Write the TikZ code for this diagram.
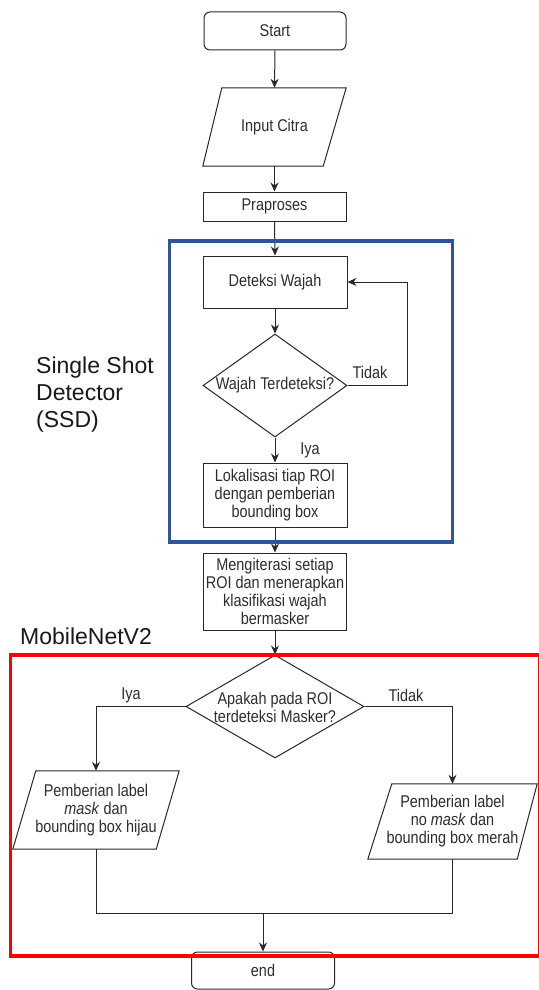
\documentclass[tikz,border=0pt]{standalone}
\usepackage{fontspec}
\setmainfont{Liberation Sans}[FakeStretch=0.85]
\newfontfamily\bigfont{Liberation Sans}
\usetikzlibrary{shapes.geometric,arrows.meta,calc}
\definecolor{ssdblue}{RGB}{47,85,151}
\definecolor{txt}{RGB}{45,45,45}
\definecolor{ln}{RGB}{40,40,40}
\begin{document}
\begin{tikzpicture}[x=1pt,y=-1pt,
  every node/.style={font=\fontsize{17}{18}\selectfont, text=txt, align=center, inner sep=0pt},
  box/.style={draw=ln, line width=1pt, fill=white},
  rbox/.style={box, rounded corners=6pt},
  ghost/.style={draw=none},
  shp/.style={draw=ln, line width=1pt},
  dia/.style={diamond, draw=ln, line width=1pt, fill=white},
  arr/.style={draw=ln, line width=1pt, -{Stealth[length=9pt,width=8pt]}},
  con/.style={draw=ln, line width=1pt},
  big/.style={font=\bigfont\fontsize{23}{27}\selectfont, text=black!90, align=left, anchor=west}
]
\useasboundingbox (0,0) rectangle (538,990);
\fill[white] (0,0) rectangle (538,990);

% nodes
\node[rbox, minimum width=142pt, minimum height=38pt] (start) at (275,31) {Start};
\node[ghost, minimum width=143pt, minimum height=78pt] (inp) at (274.5,127) {Input Citra};
\node[box, minimum width=143pt, minimum height=29pt] (pra) at (274.5,206.5) {Praproses};
\node[box, minimum width=144pt, minimum height=52pt] (det) at (275,282) {Deteksi Wajah};
\node[dia, minimum width=144pt, minimum height=103pt] (d1) at (275,385.5) {};
\node (d1t) at (d1) {Wajah Terdeteksi?};
\node[box, minimum width=144pt, minimum height=64pt] (lok) at (275,495) {Lokalisasi tiap ROI\\dengan pemberian\\bounding box};
\node[box, minimum width=143pt, minimum height=77pt] (men) at (275,591.5) {Mengiterasi setiap\\ROI dan menerapkan\\klasifikasi wajah\\bermasker};
\node[dia, minimum width=178pt, minimum height=103pt] (d2) at (275,706.5) {};
\node (d2t) at (275,707.5) {Apakah pada ROI\\terdeteksi Masker?};
\node[ghost, minimum width=166pt, minimum height=78pt] (pl) at (96,810) {Pemberian label\\\textit{mask} dan\\bounding box hijau};
\node[ghost, minimum width=169pt, minimum height=75pt] (pr) at (452.5,821.5) {Pemberian label\\no \textit{mask} dan\\bounding box merah};
\node[rbox, minimum width=143pt, minimum height=37pt] (end) at (263,970.5) {end};

% parallelograms
\draw[shp] ($(inp.north west)+(19,0)$) -- (inp.north east) -- ($(inp.south east)+(-23,0)$) -- (inp.south west) -- cycle;
\draw[shp] ($(pl.north west)+(23,0)$) -- (pl.north east) -- ($(pl.south east)+(-23,0)$) -- (pl.south west) -- cycle;
\draw[shp] ($(pr.north west)+(24,0)$) -- (pr.north east) -- ($(pr.south east)+(-20,0)$) -- (pr.south west) -- cycle;

% labels
\node[big] (ssd) at (36,395) {Single Shot\\Detector\\(SSD)};
\node[big] (mob) at (20,636) {MobileNetV2};
\node (tidak1) at (370,372) {Tidak};
\node (iya1) at (310,450) {Iya};
\node (iya2) at (131,695) {Iya};
\node (tidak2) at (406,695) {Tidak};

% connectors
\coordinate (lp) at (407,385.5);
\coordinate (jn) at (263,913);
\draw[arr] (start.south) -- (inp.north);
\draw[arr] (inp.south) -- (pra.north);
\draw[arr] (pra.south) -- (det.north);
\draw[arr] (det.south) -- (d1.north);
\draw[arr] (d1.east) -- (lp) |- (det.east);
\draw[arr] (d1.south) -- (lok.north);
\draw[arr] (lok.south) -- (men.north);
\draw[arr] (men.south) -- (d2.north);
\draw[arr] (d2.west) -| (pl.north);
\draw[arr] (d2.east) -| (pr.north);
\draw[con] (pl.south) -- (pl.south |- jn) -- (pr.south |- jn) -- (pr.south);
\draw[arr] (jn) -- (end.north);

% group frames
\draw[ssdblue, line width=3.5pt] (169.5,241) rectangle (452.5,542);
\draw[red, line width=3.5pt] (10.5,655) rectangle (540,956);
\end{tikzpicture}
\end{document}
